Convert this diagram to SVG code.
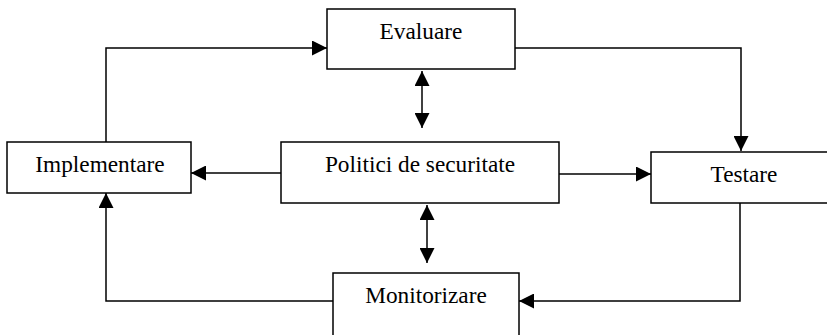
<svg xmlns="http://www.w3.org/2000/svg" width="827" height="335" viewBox="0 0 827 335">
  <style>
    .box { fill: #ffffff; stroke: #000000; stroke-width: 1.5; }
    .lbl { font-family: "Liberation Serif", "Times New Roman", serif; font-size: 23.3px; fill: #000000; text-anchor: middle; }
    .conn { fill: none; stroke: #000000; stroke-width: 1.5; }
  </style>
  <defs>
    <marker id="ah" viewBox="0 0 15 15" refX="15" refY="7.5" markerWidth="15" markerHeight="15" markerUnits="userSpaceOnUse" orient="auto-start-reverse">
      <path d="M0,0 L15,7.5 L0,15 Z" fill="#000000"/>
    </marker>
  </defs>
  <rect width="827" height="335" fill="#ffffff"/>
  <g id="connectors">
    <path class="conn" d="M106,142 V48 H327" marker-end="url(#ah)"/>
    <path class="conn" d="M515,48 H741 V151" marker-end="url(#ah)"/>
    <path class="conn" d="M422,71 V128" marker-start="url(#ah)" marker-end="url(#ah)"/>
    <path class="conn" d="M281,173 H191" marker-end="url(#ah)"/>
    <path class="conn" d="M559,174 H651" marker-end="url(#ah)"/>
    <path class="conn" d="M427,205 V263" marker-start="url(#ah)" marker-end="url(#ah)"/>
    <path class="conn" d="M740,203 V301 H519" marker-end="url(#ah)"/>
    <path class="conn" d="M333,301 H106 V193" marker-end="url(#ah)"/>
  </g>
  <g id="evaluare">
    <rect class="box" x="327" y="9" width="188" height="60"/>
    <text class="lbl" x="421" y="39">Evaluare</text>
  </g>
  <g id="implementare">
    <rect class="box" x="7" y="142" width="184" height="51"/>
    <text class="lbl" x="100" y="172">Implementare</text>
  </g>
  <g id="politici">
    <rect class="box" x="281" y="142" width="278" height="61"/>
    <text class="lbl" x="420" y="172">Politici de securitate</text>
  </g>
  <g id="testare">
    <rect class="box" x="651" y="152" width="200" height="51"/>
    <text class="lbl" x="744" y="182">Testare</text>
  </g>
  <g id="monitorizare">
    <rect class="box" x="333" y="273" width="186" height="80"/>
    <text class="lbl" x="426" y="303">Monitorizare</text>
  </g>
</svg>
